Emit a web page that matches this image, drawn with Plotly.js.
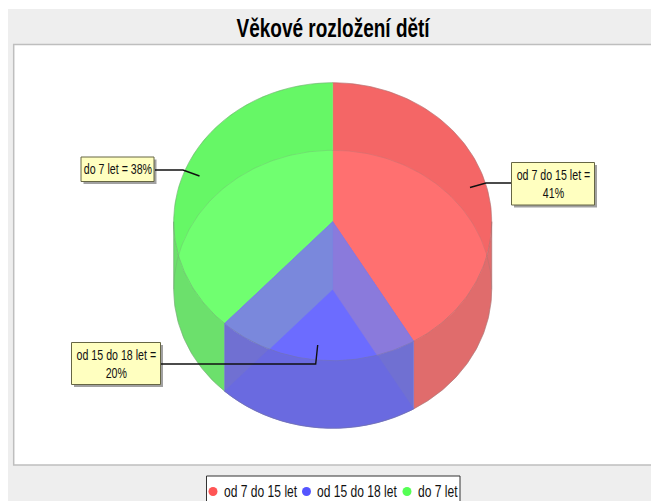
<!DOCTYPE html>
<html><head><meta charset="utf-8">
<script src="https://cdn.plot.ly/plotly-3.0.1.min.js"></script>
<style>html,body{margin:0;padding:0;background:#fff}#c{width:651px;height:501px}</style></head>
<body><div id="c"></div>
<script>
const categories = ['od 7 do 15 let', 'od 15 do 18 let', 'do 7 let'];
const shares = [41.5, 20.4, 38.1];
const percentLabels = ['41%', '20%', '38%'];
const legendColors = ['#FF5555', '#5555FF', '#55FF55'];

const FONT = '"Liberation Sans",Arial,sans-serif';
const cx = 332.7, cyTop = 221.7, cyBot = 289.3, rx = 159, ry = 139;

const cCrescent = ['#F46666', null, '#66F766'];
const cFace = ['#FF7070', '#6C6CFF', '#70FF70'];
const cSide = ['#E06C6C', '#7070D2', '#6CE06C'];
const cBlueOverRed = '#8A7ADC', cBlueOverGreen = '#7A88DC', cBlueBottom = '#6A6AE0';

function pt(t, cy) { const a = t * Math.PI / 180; return [cx + rx * Math.sin(a), cy - ry * Math.cos(a)]; }
function arc(a, b, cy) { const n = Math.max(2, Math.ceil(Math.abs(b - a))), o = []; for (let i = 0; i <= n; i++) o.push(pt(a + (b - a) * i / n, cy)); return o; }
function wedge(a, b, cy) { return [[cx, cy]].concat(arc(a, b, cy)); }
function ellipse(cy) { return arc(0, 360, cy).slice(0, -1); }
function clip(sub, c) {
  let out = sub;
  for (let i = 0; i < c.length && out.length; i++) {
    const A = c[i], B = c[(i + 1) % c.length], inp = out; out = [];
    const side = p => (B[0] - A[0]) * (p[1] - A[1]) - (B[1] - A[1]) * (p[0] - A[0]);
    for (let j = 0; j < inp.length; j++) {
      const P = inp[j], Q = inp[(j + 1) % inp.length], sp = side(P), sq = side(Q);
      if (sp >= 0) out.push(P);
      if ((sp >= 0) !== (sq >= 0)) { const k = sp / (sp - sq); out.push([P[0] + (Q[0] - P[0]) * k, P[1] + (Q[1] - P[1]) * k]); }
    }
  }
  return out;
}
const total = shares.reduce((s, v) => s + v, 0);
let acc = 0;
const spans = shares.map(v => { const a = acc; acc += v / total * 360; return [a, acc]; });

const traces = [];
function poly(pts, color) {
  traces.push({ type: 'scatter', mode: 'lines', x: pts.map(p => p[0]).concat(pts[0][0]), y: pts.map(p => p[1]).concat(pts[0][1]),
    fill: 'toself', fillcolor: color, line: { color: color, width: 0.5 }, hoverinfo: 'skip', showlegend: false });
}
function line(pts, color, w) {
  traces.push({ type: 'scatter', mode: 'lines', x: pts.map(p => p[0]), y: pts.map(p => p[1]), line: { color: color, width: w }, hoverinfo: 'skip', showlegend: false });
}
function side(a, b) { return arc(a, b, cyTop).concat(arc(a, b, cyBot).reverse()); }

const [R, B, G] = spans;
poly(side(90, R[1]), cSide[0]);
poly(side(G[0], 270), cSide[2]);
poly(side(B[0], B[1]), cSide[1]);
poly(wedge(B[0], B[1], cyBot), cBlueBottom);
const eBot = ellipse(cyBot);
poly(wedge(R[0], R[1], cyTop), cCrescent[0]);
poly(wedge(G[0], G[1], cyTop), cCrescent[2]);
poly(clip(wedge(R[0], R[1], cyTop), eBot), cFace[0]);
poly(clip(wedge(G[0], G[1], cyTop), eBot), cFace[2]);
const tBlue = wedge(B[0], B[1], cyTop);
poly(tBlue, cFace[1]);
poly(clip(tBlue, wedge(R[0], R[1], cyBot)), cBlueOverRed);
poly(clip(tBlue, wedge(G[0], G[1], cyBot)), cBlueOverGreen);
const edge = 'rgba(120,120,120,0.35)';
line(arc(90, 270, cyTop), edge, 1);
line(arc(-90, 90, cyTop), edge, 1);
line(arc(90, 270, cyBot), edge, 1);
line(arc(-90, 90, cyBot), edge, 0.6);
line([pt(90, cyTop), pt(90, cyBot)], edge, 1);
line([pt(270, cyTop), pt(270, cyBot)], edge, 1);

const legendX = [213, 306.5, 407];
const legendTextX = [221.5, 315, 415.5];
const legendY = 491.5;
traces.push({ type: 'scatter', mode: 'markers', x: legendX, y: legendX.map(() => legendY),
  marker: { size: 9, color: legendColors }, hoverinfo: 'skip', showlegend: false });

const rect = (x0, y0, x1, y1, fill, lc, lw, layer) => ({ type: 'rect', xref: 'x', yref: 'y', x0, y0, x1, y1, fillcolor: fill, line: { color: lc || fill, width: lw || 0 }, layer: layer || 'below' });
const leader = (pts) => ({ type: 'path', xref: 'x', yref: 'y', path: 'M' + pts.map(p => p.join(',')).join('L'), line: { color: '#111', width: 1.4 }, layer: 'above' });

const boxes = [
  { x0: 511.5, y0: 162.5, x1: 594.5, y1: 205, text: categories[0] + ' =<br>' + percentLabels[0], lead: [[511, 183], [486, 183], [470, 187.5]] },
  { x0: 71.5, y0: 342.5, x1: 160.5, y1: 384.5, text: categories[1] + ' =<br>' + percentLabels[1], lead: [[161, 364], [315.7, 364], [317.7, 345]] },
  { x0: 81, y0: 157, x1: 154, y1: 181.5, text: categories[2] + ' = ' + percentLabels[2], lead: [[155, 170], [183, 170], [199.5, 176]] }
];

const shapes = [
  rect(8, 9, 651, 501, '#EEEEEE'),
  rect(13.7, 44.5, 660, 465, '#FFFFFF', '#BEBEBE', 1.5),
  rect(206.5, 476, 460, 510, '#FFFFFF', '#333333', 1, 'below')
];
boxes.forEach(b => {
  shapes.push(rect(b.x0 + 2.5, b.y0 + 2.5, b.x1 + 2.5, b.y1 + 2.5, 'rgba(110,110,110,0.65)', null, 0, 'above'));
  shapes.push(rect(b.x0, b.y0, b.x1, b.y1, '#FFFFC0', '#666644', 1, 'above'));
  shapes.push(leader(b.lead));
});

const annotations = boxes.map(b => ({
  xref: 'x', yref: 'y', x: (b.x0 + b.x1) / 2, y: (b.y0 + b.y1) / 2, xanchor: 'center', yanchor: 'middle', showarrow: false,
  text: b.text, align: 'center', font: { family: FONT, size: 14, color: '#111' }, captureevents: false
}));
categories.forEach((c, i) => annotations.push({ xref: 'x', yref: 'y', x: legendTextX[i], y: legendY, xanchor: 'left', yanchor: 'middle', showarrow: false, text: c, font: { family: FONT, size: 17, color: '#111' } }));

function squeeze(el, sx, anchorLeft) {
  const b = el.getBBox();
  const ax = anchorLeft ? b.x : b.x + b.width / 2;
  const prev = el.getAttribute('transform') || '';
  el.setAttribute('transform', prev + ' matrix(' + sx + ',0,0,1,' + (ax * (1 - sx)) + ',0)');
}
Plotly.newPlot('c', traces, {
  width: 651, height: 501, margin: { l: 0, r: 0, t: 0, b: 0 }, paper_bgcolor: '#FFFFFF', plot_bgcolor: 'rgba(0,0,0,0)', showlegend: false,
  title: { text: '<b>Věkové rozložení dětí</b>', x: 0.5115, xanchor: 'center', y: 0.944, yanchor: 'middle', font: { family: FONT, size: 25, color: '#000' } },
  xaxis: { visible: false, range: [0, 651], fixedrange: true },
  yaxis: { visible: false, range: [501, 0], fixedrange: true },
  shapes, annotations
}, { displayModeBar: false, staticPlot: true }).then(gd => {
  gd.querySelectorAll('.annotation-text').forEach((el, i) => squeeze(el, i < 3 ? 0.76 : 0.71, i >= 3));
  const t = gd.querySelector('.gtitle');
  if (t) squeeze(t, 0.76, false);
});
</script></body></html>
